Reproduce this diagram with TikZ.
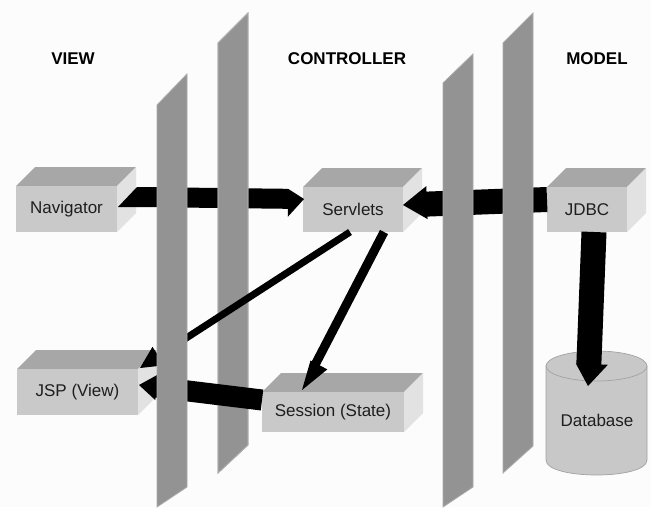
\documentclass[tikz,border=0pt]{standalone}
\usepackage{fontspec}
\setmainfont{Liberation Sans}
\usetikzlibrary{calc}

\definecolor{bg}{HTML}{FCFCFC}
\definecolor{planegray}{HTML}{939393}
\definecolor{planeedge}{HTML}{ABABAB}
\definecolor{facefront}{HTML}{C9C9C9}
\definecolor{facetop}{HTML}{A7A7A7}
\definecolor{faceside}{HTML}{E2E2E2}
\definecolor{dbfill}{HTML}{C8C8C8}
\definecolor{dbline}{HTML}{A2A2A2}
\definecolor{ink}{HTML}{1E1E1E}

\newcommand\boxdepth{19}

% 3-D box: name, left, top, width, height, label (front face is the node)
\newcommand\cubebox[6]{%
  \fill[facetop] (#2,#3) -- ++(\boxdepth,-\boxdepth) -- ++(#4,0) -- ++(-\boxdepth,\boxdepth) -- cycle;
  \fill[faceside] (#2+#4,#3) -- ++(\boxdepth,-\boxdepth) -- ++(0,#5) -- ++(-\boxdepth,\boxdepth) -- cycle;
  \node[boxfront, minimum width=#4pt, minimum height=#5pt, anchor=north west] (#1) at (#2,#3) {#6};
}

% block arrow: from, to, half shaft width, head half (left of travel), head half (right of travel), head length
\newcommand\fatarrow[6]{%
  \coordinate (fa-base) at ($(#2)!#6!(#1)$);
  \fill[arrowfill] ($(#1)!#3!90:(#2)$) -- ($(fa-base)!#3!90:(#2)$) -- ($(fa-base)!#4!90:(#2)$)
    -- (#2) -- ($(fa-base)!#5!-90:(#2)$) -- ($(fa-base)!#3!-90:(#2)$) -- ($(#1)!#3!-90:(#2)$) -- cycle;
}

\begin{document}
\begin{tikzpicture}[x=1pt,y=-1pt,
  boxfront/.style={fill=facefront, inner sep=0pt, outer sep=0pt, text=ink,
    font=\fontsize{17}{20}\selectfont},
  hdr/.style={inner sep=0pt, text=black, font=\fontsize{17}{20}\selectfont\bfseries},
  plane/.style={fill=planegray, draw=planeedge, line width=0.8pt},
  arrowfill/.style={fill=black}]

\useasboundingbox (0,0) rectangle (651,507);
\fill[bg] (0,0) rectangle (651,507);

% layer headings
\node[hdr] (hview) at (73,59) {VIEW};
\node[hdr] (hctrl) at (347,59) {CONTROLLER};
\node[hdr] (hmodel) at (597,59) {MODEL};

% components
\cubebox{nav}{16}{186}{101}{46}{Navigator}
\cubebox{serv}{303}{187}{100}{45}{Servlets}
\cubebox{jdbc}{547}{187}{80}{45}{JDBC}
\cubebox{jsp}{17}{369}{121}{46}{JSP (View)}
\cubebox{sess}{262}{392}{142}{40}{Session (State)}

% database cylinder
\filldraw[fill=dbfill, draw=dbline, line width=0.7pt]
  (546,366) -- (546,460) .. controls (546,480) and (647,480) .. (647,460) -- (647,366) -- cycle;
\filldraw[fill=dbfill, draw=dbline, line width=0.7pt] (596.5,366) ellipse [x radius=50.5, y radius=15];
\node[inner sep=0pt, text=ink, font=\fontsize{17}{20}\selectfont] (db) at (597,420) {Database};

% arrow end points
\coordinate (navout) at (137,197);
\coordinate (servin) at (304,199);
\coordinate (jdbcout) at (547,199.5);
\coordinate (servinr) at (403,205);
\coordinate (jdbcdown) at (594,232);
\coordinate (dbin) at (588,386);
\coordinate (servout1) at (350,232);
\coordinate (jspin1) at (140,368);
\coordinate (servout2) at (384,232);
\coordinate (sessin) at (302,390);
\coordinate (sessout) at (262,400);
\coordinate (jspin2) at (139,385);

% requests crossing behind the tiers
\fatarrow{navout}{servin}{10pt}{10pt}{18pt}{16pt}
% bevelled tail lying on the box's side face
\fill[arrowfill] (118,207) -- (137,187) -- (137,207) -- cycle;
\fatarrow{jdbcout}{servinr}{12.5pt}{15pt}{18pt}{24pt}

% tier walls
\fill[plane] (218,43) -- (248,13) -- (248,445) -- (218,473) -- cycle;
\fill[plane] (443,83) -- (473,54) -- (473,487) -- (443,507) -- cycle;
\fill[plane] (503,43) -- (533,13) -- (533,446) -- (503,473) -- cycle;
\draw[planeedge, line width=0.8pt] (218,43) -- (248,13) -- (248,445) -- (218,473) -- cycle;

% flows into the view
\fatarrow{servout1}{jspin1}{3.5pt}{11pt}{11pt}{22pt}
\fatarrow{sessout}{jspin2}{10.5pt}{13pt}{13pt}{18pt}

\fill[plane] (157,105) -- (187,74) -- (187,487) -- (157,507) -- cycle;

% flows inside controller and model
\fatarrow{servout2}{sessin}{4.5pt}{13pt}{6pt}{30pt}
\fatarrow{jdbcdown}{dbin}{12.5pt}{19pt}{13pt}{22pt}

\end{tikzpicture}
\end{document}
